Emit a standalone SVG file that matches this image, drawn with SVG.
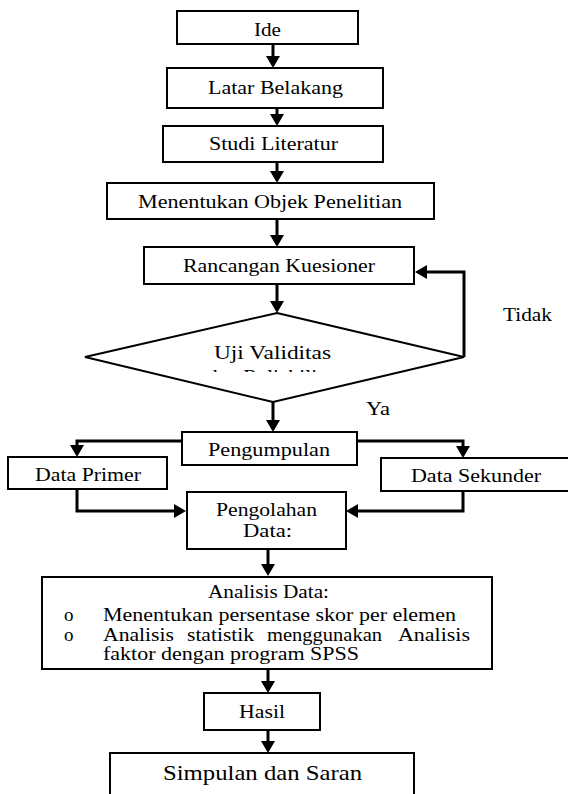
<svg xmlns="http://www.w3.org/2000/svg" width="568" height="794" viewBox="0 0 568 794" font-family="'Liberation Serif', 'DejaVu Serif', serif">
<defs>
<style>
.box{fill:#fff;stroke:#000;stroke-width:2}
.con{fill:none;stroke:#000;stroke-width:3;marker-end:url(#ah)}
text{font-family:'Liberation Serif','DejaVu Serif',serif;font-size:18.5px;fill:#000}
.big{font-size:21px}
.bul{font-size:19px}
</style>
<marker id="ah" viewBox="0 0 12 14" markerWidth="12" markerHeight="14" refX="2" refY="7" orient="auto" markerUnits="userSpaceOnUse">
<path d="M0,0 L12,7 L0,14 Z" fill="#000"/>
</marker>
<clipPath id="clipDiam"><rect x="0" y="300" width="568" height="72"/></clipPath>
<clipPath id="clipAna"><rect x="42" y="577" width="450" height="87"/></clipPath>
</defs>
<g id="connectors">
<path class="con" d="M273,44 V58"/>
<path class="con" d="M277,108 V116"/>
<path class="con" d="M277,162 V173"/>
<path class="con" d="M277,219 V237"/>
<path class="con" d="M277,284 V303"/>
<path class="con" d="M273,402 V422"/>
<path class="con" d="M464,357 V272 H425"/>
<path class="con" d="M182,441 H77 V447"/>
<path class="con" d="M357,441 H463 V448"/>
<path class="con" d="M77,489 V511 H176"/>
<path class="con" d="M463,491 V511 H356"/>
<path class="con" d="M268,549 V566"/>
<path class="con" d="M268,669 V683"/>
<path class="con" d="M268,730 V743"/>
</g>
<g id="ide"><rect class="box" x="177" y="11" width="181" height="33"/><text x="254" y="36" textLength="27" lengthAdjust="spacingAndGlyphs">Ide</text></g>
<g id="latar"><rect class="box" x="167" y="68" width="216" height="40"/><text x="208" y="94" textLength="135" lengthAdjust="spacingAndGlyphs">Latar Belakang</text></g>
<g id="studi"><rect class="box" x="163" y="126" width="220" height="36"/><text x="209" y="150" textLength="129" lengthAdjust="spacingAndGlyphs">Studi Literatur</text></g>
<g id="objek"><rect class="box" x="107" y="183" width="327" height="36"/><text x="138" y="208" textLength="264" lengthAdjust="spacingAndGlyphs">Menentukan Objek Penelitian</text></g>
<g id="rancangan"><rect class="box" x="144" y="247" width="270" height="37"/><text x="183" y="272" textLength="192" lengthAdjust="spacingAndGlyphs">Rancangan Kuesioner</text></g>
<g id="uji">
<polygon class="box" points="277,313 464,357 273,402 85,357"/>
<text x="214" y="359" textLength="117" lengthAdjust="spacingAndGlyphs">Uji Validitas</text>
<text x="207" y="383" textLength="134" lengthAdjust="spacingAndGlyphs" clip-path="url(#clipDiam)">dan Reliabilitas</text>
</g>
<g id="label-tidak"><text x="503" y="321" textLength="49" lengthAdjust="spacingAndGlyphs">Tidak</text></g>
<g id="label-ya"><text x="366" y="415" textLength="24" lengthAdjust="spacingAndGlyphs">Ya</text></g>
<g id="pengumpulan"><rect class="box" x="182" y="432" width="175" height="33"/><text x="208" y="456" textLength="122" lengthAdjust="spacingAndGlyphs">Pengumpulan</text></g>
<g id="primer"><rect class="box" x="8" y="457" width="159" height="32"/><text x="35" y="481" textLength="106" lengthAdjust="spacingAndGlyphs">Data Primer</text></g>
<g id="sekunder"><rect class="box" x="381" y="458" width="190" height="33"/><text x="411" y="482" textLength="130" lengthAdjust="spacingAndGlyphs">Data Sekunder</text></g>
<g id="pengolahan"><rect class="box" x="187" y="492" width="159" height="57"/><text x="216" y="516" textLength="101" lengthAdjust="spacingAndGlyphs">Pengolahan</text><text x="243" y="537" textLength="49" lengthAdjust="spacingAndGlyphs">Data:</text></g>
<g id="analisis">
<rect class="box" x="42" y="577" width="450" height="92"/>
<text x="208" y="598" textLength="121" lengthAdjust="spacingAndGlyphs">Analisis Data:</text>
<text class="bul" x="64" y="621">o</text>
<text class="bul" x="64" y="641">o</text>
<text x="103" y="621" textLength="353" lengthAdjust="spacingAndGlyphs">Menentukan persentase skor per elemen</text>
<text x="103" y="641" textLength="71" lengthAdjust="spacingAndGlyphs">Analisis</text>
<text x="187" y="641" textLength="67" lengthAdjust="spacingAndGlyphs">statistik</text>
<text x="267" y="641" textLength="115" lengthAdjust="spacingAndGlyphs">menggunakan</text>
<text x="398" y="641" textLength="72" lengthAdjust="spacingAndGlyphs">Analisis</text>
<text x="103" y="660" textLength="256" lengthAdjust="spacingAndGlyphs" clip-path="url(#clipAna)">faktor dengan program SPSS</text>
</g>
<g id="hasil"><rect class="box" x="204" y="693" width="116" height="37"/><text x="239" y="718" textLength="46" lengthAdjust="spacingAndGlyphs">Hasil</text></g>
<g id="simpulan"><rect class="box" x="110" y="753" width="304" height="50"/><text class="big" x="163" y="780" textLength="199" lengthAdjust="spacingAndGlyphs">Simpulan dan Saran</text></g>
</svg>
